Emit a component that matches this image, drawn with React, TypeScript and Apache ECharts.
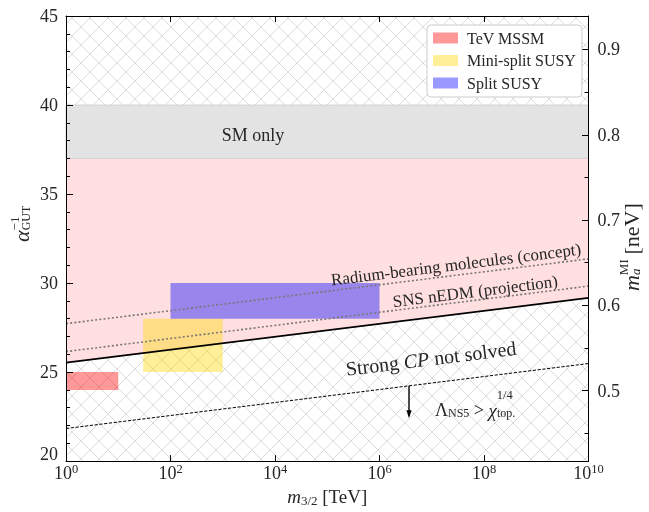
import React, { useEffect, useRef } from 'react';
import * as echarts from 'echarts';

const FONT = "'Liberation Serif', 'DejaVu Serif', serif";
const TEXT = '#262626';

// axes
const xRange = [1, 1e10];
const alphaRange = [20, 45];
const alphaTickStep = 5;
const xTickValues = [1, 1e2, 1e4, 1e6, 1e8, 1e10];
const massRange = [0.4175, 0.9392];
const massMajorTicks = [0.5, 0.6, 0.7, 0.8, 0.9];
const massMinorTicks = [0.45, 0.55, 0.65, 0.75, 0.85];

// lines: [m3/2 (TeV), alpha_GUT^-1]
const cpBoundary = [[1, 25.53], [1e10, 29.17]];
const radiumLine = [[1, 27.72], [1e10, 31.36]];
const snsLine = [[1, 26.15], [1e10, 29.83]];
const ns5Line = [[1, 21.83], [1e10, 25.48]];

// boxes: [x0, x1, y0, y1]
const smOnlyBand = [1, 1e10, 37, 40];
const tevMssmBox = [1, 10, 24, 25];
const miniSplitBox = [30, 1000, 25, 28];
const splitSusyBox = [100, 1e6, 28, 30];

// arrow: [x, yStart, yEnd]
const ns5Arrow = [3.67e6, 24.23, 22.4];

// annotations
const noteTexts = ['SM only', 'Radium-bearing molecules (concept)', 'SNS nEDM (projection)', 'Strong {i|CP} not solved'];
const noteX = [3793, 2.91e7, 6.79e7, 9.68e6];
const noteY = [38.33, 31.04, 29.53, 25.77];
const noteSize = [18, 17, 17, 20];
const noteAlong = [null, radiumLine, snsLine, cpBoundary];
const lambdaText = '{m|Λ}{sb|NS5}{m| > }{mi|χ}{sp|1/4}{sb|top.}';
const lambdaPos = [1.153e7, 24.09];

const HATCH = 18;
const hatchSvg =
  `<svg xmlns="http://www.w3.org/2000/svg" width="${HATCH}" height="${HATCH}"><path d="M-${HATCH} 0L0 ${HATCH}M0 0L${HATCH} ${HATCH}M${HATCH} 0L${2 * HATCH} ${HATCH}M-${HATCH} ${HATCH}L0 0M0 ${HATCH}L${HATCH} 0M${HATCH} ${HATCH}L${2 * HATCH} 0" stroke="#dcdcdc" stroke-width="1" fill="none"/></svg>`;
const hatchFill = {
  image: 'data:image/svg+xml;charset=utf-8,' + encodeURIComponent(hatchSvg),
  repeat: 'repeat',
  imageWidth: HATCH,
  imageHeight: HATCH,
};

function rectItem(params: any, api: any) {
  const p0 = api.coord([api.value(0), api.value(3)]);
  const p1 = api.coord([api.value(1), api.value(2)]);
  return {
    type: 'rect',
    shape: { x: p0[0], y: p0[1], width: p1[0] - p0[0], height: p1[1] - p0[1] },
    style: { fill: api.visual('color') },
  };
}

function boxSeries(name: string, box: number[], color: string, z: number) {
  return {
    type: 'custom',
    name,
    z,
    silent: true,
    itemStyle: { color },
    encode: { x: [0, 1], y: [2, 3] },
    data: [box],
    renderItem: rectItem,
  };
}

function lineSeries(data: number[][], lineStyle: any) {
  return {
    type: 'line',
    data,
    symbol: 'none',
    showSymbol: false,
    silent: true,
    z: 5,
    lineStyle,
  };
}

const tok = (size: number, extra: any = {}) => ({ fontFamily: FONT, fontSize: size, fill: TEXT, ...extra });

export default function App() {
  const ref = useRef<HTMLDivElement>(null);
  useEffect(() => {
    if (!ref.current) return;
    const chart = echarts.init(ref.current, null, { renderer: 'svg' });
    const option: any = {
      animation: false,
      grid: { left: 66, right: 60.5, top: 16, bottom: 50, show: false },
      legend: {
        data: [
          { name: 'TeV MSSM', icon: 'rect' },
          { name: 'Mini-split SUSY', icon: 'rect' },
          { name: 'Split SUSY', icon: 'rect' },
        ],
        orient: 'vertical',
        left: 427,
        top: 25,
        itemWidth: 25,
        itemHeight: 11,
        itemGap: 6.5,
        padding: [5, 6, 6, 6],
        backgroundColor: '#ffffff',
        borderColor: '#cccccc',
        borderWidth: 1,
        borderRadius: 4,
        selectedMode: false,
        z: 20,
        textStyle: { fontFamily: FONT, fontSize: 16, color: TEXT, padding: [0, 0, 0, 4] },
      },
      xAxis: [
        {
          type: 'log',
          logBase: 10,
          min: xRange[0],
          max: xRange[1],
          position: 'bottom',
          z: 10,
          axisLine: { show: true, lineStyle: { color: '#000', width: 1 } },
          axisTick: { show: true, inside: true, length: 6, customValues: xTickValues, lineStyle: { color: '#000', width: 1 } },
          axisLabel: {
            customValues: xTickValues,
            margin: 1,
            formatter: (v: number) => '{b|10}{sp|' + Math.round(Math.log10(v)) + '}',
            rich: {
              b: { fontFamily: FONT, fontSize: 18, color: TEXT, lineHeight: 20, verticalAlign: 'bottom' },
              sp: { fontFamily: FONT, fontSize: 12.5, color: TEXT, lineHeight: 12, verticalAlign: 'top' },
            },
          },
          splitLine: { show: false },
          name: '{i|m}{sb|3/2} [TeV]',
          nameLocation: 'middle',
          nameGap: 24.5,
          nameTextStyle: {
            fontFamily: FONT,
            fontSize: 19,
            color: TEXT,
            rich: {
              i: { fontFamily: FONT, fontSize: 19, color: TEXT, fontStyle: 'italic' },
              sb: { fontFamily: FONT, fontSize: 13, color: TEXT, verticalAlign: 'top', padding: [8, 0, 0, 0] },
            },
          },
        },
        {
          type: 'log',
          logBase: 10,
          min: xRange[0],
          max: xRange[1],
          position: 'top',
          z: 10,
          axisLine: { show: true, lineStyle: { color: '#000', width: 1 } },
          axisTick: { show: true, inside: true, length: 6, customValues: xTickValues, lineStyle: { color: '#000', width: 1 } },
          axisLabel: { show: false },
          splitLine: { show: false },
        },
      ],
      yAxis: [
        {
          type: 'value',
          min: alphaRange[0],
          max: alphaRange[1],
          interval: alphaTickStep,
          position: 'left',
          z: 10,
          axisLine: { show: true, lineStyle: { color: '#000', width: 1 } },
          axisTick: { show: true, inside: true, length: 7, lineStyle: { color: '#000', width: 1 } },
          minorTick: { show: true, splitNumber: 5, length: 4, lineStyle: { color: '#000', width: 1 } },
          axisLabel: {
            fontFamily: FONT,
            fontSize: 18,
            color: TEXT,
            margin: 8,
            formatter: (v: number) => (v === alphaRange[0] ? '{lo|' + v + '}' : String(v)),
            rich: { lo: { fontFamily: FONT, fontSize: 18, color: TEXT, padding: [0, 0, 14, 0] } },
          },
          splitLine: { show: false },
        },
        {
          type: 'value',
          min: massRange[0],
          max: massRange[1],
          position: 'right',
          z: 10,
          axisLine: { show: true, lineStyle: { color: '#000', width: 1 } },
          axisTick: { show: true, inside: true, length: 6.5, customValues: massMajorTicks, lineStyle: { color: '#000', width: 1 } },
          axisLabel: {
            customValues: massMajorTicks,
            formatter: (v: number) => v.toFixed(1),
            fontFamily: FONT,
            fontSize: 18,
            color: TEXT,
            margin: 9,
          },
          splitLine: { show: false },
        },
        {
          type: 'value',
          min: massRange[0],
          max: massRange[1],
          position: 'right',
          z: 10,
          axisLine: { show: false },
          axisTick: { show: true, inside: true, length: 4, customValues: massMinorTicks, lineStyle: { color: '#000', width: 1 } },
          axisLabel: { show: false },
          splitLine: { show: false },
        },
      ],
      graphic: [
        {
          type: 'text',
          x: 8,
          y: 242,
          rotation: Math.PI / 2,
          z: 30,
          style: {
            text: '{a|α}{sp|−1}{sb|GUT}',
            align: 'left',
            verticalAlign: 'top',
            rich: {
              a: tok(22, { fontStyle: 'italic', padding: [2.5, 0, 0, 0], verticalAlign: 'top' }),
              sp: tok(13, { width: 0.1, verticalAlign: 'top' }),
              sb: tok(12, { padding: [12, 0, 0, 0], verticalAlign: 'top' }),
            },
          },
        },
        {
          type: 'text',
          x: 617,
          y: 291,
          rotation: Math.PI / 2,
          z: 30,
          style: {
            text: '{m|m}{sp|MI}{sb|a}{r|[neV]}',
            align: 'left',
            verticalAlign: 'top',
            rich: {
              m: tok(22, { fontStyle: 'italic', padding: [3, 0, 0, 0], verticalAlign: 'top' }),
              r: tok(22, { padding: [3, 0, 0, 14], verticalAlign: 'top' }),
              sp: tok(13, { width: 0.1, verticalAlign: 'top' }),
              sb: tok(13, { fontStyle: 'italic', padding: [12, 0, 0, 0], verticalAlign: 'top' }),
            },
          },
        },
      ],
      series: [
        {
          type: 'custom',
          name: 'hatch',
          z: 1,
          silent: true,
          encode: { x: [0, 1], y: [2, 3] },
          data: [[xRange[0], xRange[1], alphaRange[0], alphaRange[1]]],
          renderItem: (params: any, api: any) => {
            const el: any = rectItem(params, api);
            el.style = { fill: hatchFill };
            return el;
          },
        },
        {
          type: 'custom',
          name: 'CP solved region',
          z: 2,
          silent: true,
          data: [cpBoundary[0]],
          renderItem: (params: any, api: any) => {
            const a = api.coord(cpBoundary[0]);
            const b = api.coord(cpBoundary[1]);
            const c = api.coord([cpBoundary[1][0], smOnlyBand[2]]);
            const d = api.coord([cpBoundary[0][0], smOnlyBand[2]]);
            return { type: 'polygon', shape: { points: [a, b, c, d] }, style: { fill: '#ffdfe0' } };
          },
        },
        {
          type: 'custom',
          name: 'SM only',
          z: 2,
          silent: true,
          encode: { x: [0, 1], y: [2, 3] },
          data: [smOnlyBand],
          renderItem: (params: any, api: any) => {
            const el: any = rectItem(params, api);
            el.style = { fill: '#e3e3e3', stroke: '#cdcdcd', lineWidth: 0.8 };
            return el;
          },
        },
        boxSeries('TeV MSSM', tevMssmBox, 'rgba(255,0,0,0.4)', 3),
        boxSeries('Mini-split SUSY', miniSplitBox, 'rgba(255,215,0,0.4)', 3),
        boxSeries('Split SUSY', splitSusyBox, 'rgba(0,0,255,0.4)', 3),
        lineSeries(radiumLine, { color: '#777777', width: 1.6, type: [2, 2.2] }),
        lineSeries(snsLine, { color: '#777777', width: 1.6, type: [2, 2.2] }),
        lineSeries(cpBoundary, { color: '#000000', width: 1.6 }),
        lineSeries(ns5Line, { color: '#000000', width: 1, type: [3.2, 1.6] }),
        {
          type: 'custom',
          name: 'arrow',
          z: 6,
          silent: true,
          data: [ns5Arrow],
          renderItem: (params: any, api: any) => {
            const p0 = api.coord([api.value(0), api.value(1)]);
            const p1 = api.coord([api.value(0), api.value(2)]);
            return {
              type: 'group',
              children: [
                { type: 'line', shape: { x1: p0[0], y1: p0[1], x2: p1[0], y2: p1[1] - 5 }, style: { stroke: '#000', lineWidth: 1.4 } },
                {
                  type: 'polygon',
                  shape: { points: [[p1[0], p1[1]], [p1[0] - 2.6, p1[1] - 8], [p1[0] + 2.6, p1[1] - 8]] },
                  style: { fill: '#000' },
                },
              ],
            };
          },
        },
        {
          type: 'custom',
          name: 'notes',
          z: 7,
          silent: true,
          data: noteX.map((x, i) => [x, noteY[i]]),
          renderItem: (params: any, api: any) => {
            const i = params.dataIndex;
            const p = api.coord([api.value(0), api.value(1)]);
            let rot = 0;
            const ln = noteAlong[i];
            if (ln) {
              const a = api.coord(ln[0]);
              const b = api.coord(ln[1]);
              rot = Math.atan2(a[1] - b[1], b[0] - a[0]);
            }
            const fs = noteSize[i];
            return {
              type: 'text',
              x: p[0],
              y: p[1],
              rotation: rot,
              style: {
                text: noteTexts[i],
                fontFamily: FONT,
                fontSize: fs,
                fill: TEXT,
                align: 'center',
                verticalAlign: 'middle',
                rich: { i: tok(fs, { fontStyle: 'italic' }) },
              },
            };
          },
        },
        {
          type: 'custom',
          name: 'lambda',
          z: 7,
          silent: true,
          data: [lambdaPos],
          renderItem: (params: any, api: any) => {
            const p = api.coord([api.value(0), api.value(1)]);
            return {
              type: 'text',
              x: p[0],
              y: p[1],
              style: {
                text: lambdaText,
                align: 'left',
                verticalAlign: 'top',
                rich: {
                  m: tok(18, { padding: [13, 0, 0, 0], verticalAlign: 'top' }),
                  mi: tok(19, { fontStyle: 'italic', padding: [12.5, 0, 0, 0], verticalAlign: 'top' }),
                  sp: tok(12.5, { width: 0.1, verticalAlign: 'top' }),
                  sb: tok(12, { padding: [19, 0, 0, 0], verticalAlign: 'top' }),
                },
              },
            };
          },
        },
      ],
    };
    chart.setOption(option);
    return () => chart.dispose();
  }, []);
  return <div ref={ref} style={{ position: 'fixed', left: 0, top: 0, width: 649, height: 512 }} />;
}
